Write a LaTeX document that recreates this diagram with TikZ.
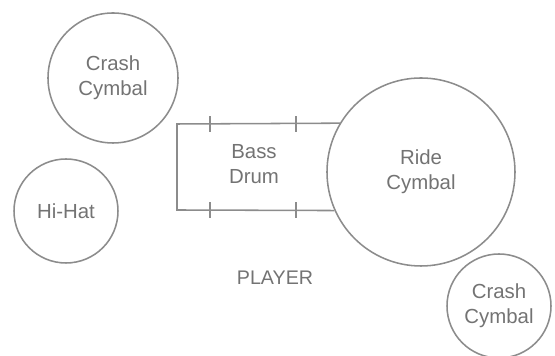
\documentclass[tikz,border=0pt]{standalone}
\usepackage{fontspec}
\setmainfont{Liberation Sans}
\usetikzlibrary{positioning}

\definecolor{kitline}{gray}{0.55}
\definecolor{kittext}{gray}{0.45}

\tikzset{
    kit/.style={draw=kitline, line width=1.1pt, circle, inner sep=0pt,
        align=center, text=kittext, font=\fontsize{14.5}{18}\selectfont},
    lug/.style={draw=kitline, line width=1.1pt}
}

\begin{document}
\begin{tikzpicture}
    \useasboundingbox (0,0) rectangle (13.875,8.9);

    % Cymbals and hi-hat
    \node[kit, minimum size=3.25cm] (crashL) at (2.825,6.95) {Crash\\Cymbal};
    \node[kit, minimum size=2.6cm] (hihat) at (1.65,3.625) {Hi-Hat};
    \node[kit, minimum size=4.7cm] (ride) at (10.525,4.6) {Ride\\Cymbal};
    \node[kit, minimum size=2.6cm] (crashR) at (12.475,1.25) {Crash\\Cymbal};

    % Bass drum shell, closed by the ride cymbal
    \coordinate (bdTL) at (4.425,5.8);
    \coordinate (bdBL) at (4.425,3.65);
    \draw[lug] (ride.149) -- (bdTL) -- (bdBL) -- (ride.204);
    \node[text=kittext, align=center, font=\fontsize{14.5}{18}\selectfont] (bass) at (6.35,4.8) {Bass\\Drum};

    % Tension lugs
    \foreach \x in {5.25,7.4} {
        \draw[lug] (\x,5.6) -- (\x,6.0);
        \draw[lug] (\x,3.45) -- (\x,3.85);
    }

    \node[text=kittext, font=\fontsize{14}{17}\selectfont] (player) at (6.875,1.95) {PLAYER};
\end{tikzpicture}
\end{document}
